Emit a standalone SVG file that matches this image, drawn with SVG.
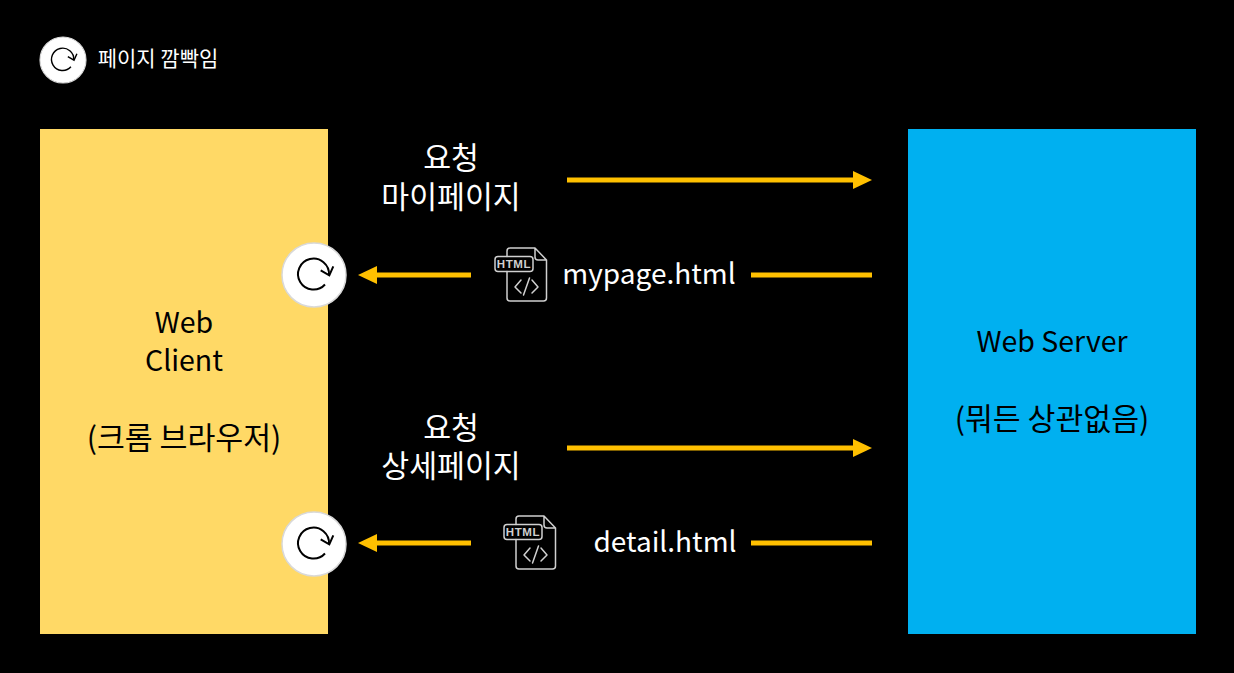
<svg xmlns="http://www.w3.org/2000/svg" xmlns:xlink="http://www.w3.org/1999/xlink" width="1234" height="673" viewBox="0 0 1234 673">
<style>
text{font-family:"Noto Sans CJK KR","Noto Sans",sans-serif;fill:#000;text-anchor:middle}
.w{fill:#fff;font-size:28px}
.d{fill:#000;font-size:28.5px}
.k{font-size:30.3px}
.line{stroke:#ffc000;stroke-width:5;fill:none}
.head{fill:#ffc000}
.ic{fill:none;stroke:#d0d0d0;stroke-width:1.5;stroke-linejoin:round;stroke-linecap:round}
</style>
<defs>
<g id="reload">
<circle r="32" fill="#fff" stroke="#d9d9d9" stroke-width="1.5"/>
<path d="M 11 9.5 A 15.5 15.5 0 1 1 15 0" fill="none" stroke="#000" stroke-width="2"/>
<path d="M 6.700 -4.700 L 15.300 0.300 L 19.300 -8.700" fill="none" stroke="#000" stroke-width="2"/>
</g>
<g id="html">
<path class="ic" d="M 13 9.500 L 13 4 Q 13 1 16 1 L 41 1 L 52.500 13 L 52.500 51 Q 52.500 54 49.500 54 L 16 54 Q 13 54 13 51 L 13 24.500 M 41 1 L 41 10 Q 41 13 44 13 L 52.500 13"/>
<rect class="ic" x="1" y="9.500" width="38" height="15" rx="3"/>
<text x="20" y="21" style="font-family:'Liberation Sans',sans-serif;font-size:11.500px;font-weight:700;fill:#d0d0d0;letter-spacing:.6px">HTML</text>
<path class="ic" d="M 27 33 L 21 40 L 27 46 M 38 33 L 44 40 L 38 46 M 35.500 31 L 29.500 48"/>
</g>
</defs>
<rect width="1234" height="673" fill="#000"/>
<g id="legend">
<use xlink:href="#reload" href="#reload" transform="translate(63 60) scale(.72)"/>
<text x="158" y="66" class="w" style="font-size:21px">페이지 깜빡임</text>
</g>
<g id="client">
<rect x="40" y="129" width="288" height="505" fill="#ffd966"/>
<text x="184" y="333" class="d">Web</text>
<text x="184" y="371" class="d">Client</text>
<text x="184" y="449" class="d k">(크롬 브라우저)</text>
</g>
<g id="server">
<rect x="908" y="129" width="288" height="505" fill="#00b0f0"/>
<text x="1052" y="352" class="d">Web Server</text>
<text x="1052" y="430" class="d k">(뭐든 상관없음)</text>
</g>
<g id="connectors">
<path class="line" d="M 567 180 H 854"/><path class="head" d="M 853 171 L 872 180 L 853 189 Z"/>
<path class="line" d="M 872 275 H 751 M 471 275 H 375"/><path class="head" d="M 377 266 L 358 275 L 377 284 Z"/>
<path class="line" d="M 567 448 H 854"/><path class="head" d="M 853 439 L 872 448 L 853 457 Z"/>
<path class="line" d="M 872 543 H 751 M 471 543 H 375"/><path class="head" d="M 377 534 L 358 543 L 377 552 Z"/>
</g>
<g id="reload-1"><use xlink:href="#reload" href="#reload" transform="translate(314 275)"/></g>
<g id="reload-2"><use xlink:href="#reload" href="#reload" transform="translate(314 544)"/></g>
<g id="label-request-1">
<text x="451" y="169" class="w k">요청</text>
<text x="451" y="208" class="w k">마이페이지</text>
</g>
<g id="label-request-2">
<text x="451" y="439" class="w k">요청</text>
<text x="451" y="477" class="w k">상세페이지</text>
</g>
<g id="file-1">
<use xlink:href="#html" href="#html" transform="translate(494 247)"/>
<text x="649" y="284" class="w">mypage.html</text>
</g>
<g id="file-2">
<use xlink:href="#html" href="#html" transform="translate(503 515)"/>
<text x="665" y="552" class="w">detail.html</text>
</g>
</svg>
